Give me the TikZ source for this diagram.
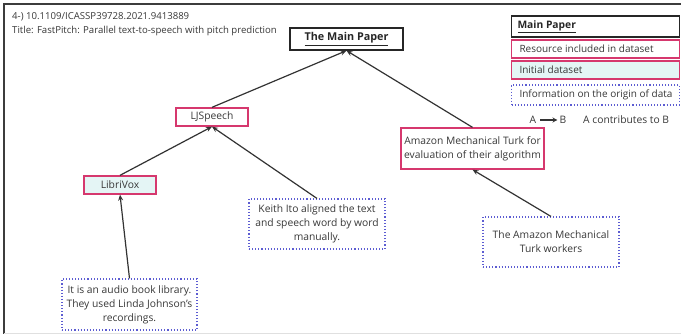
\documentclass[tikz,border=0pt]{standalone}
\usepackage{fontspec}
\setmainfont{Open Sans}
\usetikzlibrary{arrows.meta}
\definecolor{pinkc}{RGB}{214,56,110}
\definecolor{bluec}{RGB}{92,92,210}
\definecolor{cyanc}{RGB}{228,245,245}
\definecolor{txt}{RGB}{55,55,55}
\definecolor{framec}{RGB}{60,60,60}
\begin{document}
\begin{tikzpicture}[x=1pt,y=-1pt,
  every node/.style={font=\fontsize{10.3}{14}\selectfont, text=txt, inner sep=0pt, align=center},
  mainbox/.style={draw=black!85, line width=1.3pt, font=\fontsize{10.8}{14}\selectfont\bfseries, text=black!85},
  resbox/.style={draw=pinkc, line width=1.3pt},
  initbox/.style={resbox, fill=cyanc},
  infobox/.style={draw=bluec, dotted, line width=1.1pt},
  legtext/.style={minimum width=168pt, align=left, font=\fontsize{10}{14}\selectfont},
  arr/.style={-{Stealth[length=6pt,width=5pt]}, line width=1.2pt, draw=black!80},
  hdr/.style={anchor=base west, font=\fontsize{9.6}{12}\selectfont, text=txt}
]
\useasboundingbox (0,0) rectangle (681,334);
% frame
\draw[framec, line width=1.5pt] (4,334) -- (4,4) -- (681,4);
\draw[black!12, line width=0.8pt] (4,333) -- (681,333);
% header
\node[hdr] (h1) at (12,20) {4-) 10.1109/ICASSP39728.2021.9413889};
\node[hdr] (h2) at (12,34) {Title: FastPitch: Parallel text-to-speech with pitch prediction};
% nodes
\node[mainbox, minimum width=113pt, minimum height=22pt] (main) at (346.5,39) {\underline{The Main Paper}};
\node[resbox, minimum width=72pt, minimum height=18pt] (lj) at (212,117) {LJSpeech};
\node[initbox, minimum width=72pt, minimum height=18pt] (lv) at (120,185) {LibriVox};
\node[infobox, minimum width=136pt, minimum height=50pt] (keith) at (317,224) {Keith Ito aligned the text\\and speech word by word\\manually.};
\node[infobox, minimum width=135pt, minimum height=51pt] (audio) at (129.5,304.5) {It is an audio book library.\\They used Linda Johnson's\\recordings.};
\node[resbox, minimum width=143pt, minimum height=41pt] (amt) at (472.5,148.5) {Amazon Mechanical Turk for\\evaluation of their algorithm};
\node[infobox, minimum width=136pt, minimum height=50pt] (work) at (551,242) {The Amazon Mechanical\\Turk workers};
% arrows
\draw[arr] (lj.north) -- (main.south);
\draw[arr] (amt.north) -- (main.south);
\draw[arr] (lv.north) -- (lj.south);
\draw[arr] (keith.north) -- (lj.south);
\draw[arr] (audio.north) -- (lv.south);
\draw[arr] (work.north) -- (amt.south);
% legend
\node[mainbox, legtext, font=\fontsize{10.3}{14}\selectfont\bfseries, minimum height=21pt] (lg1) at (595.5,26.5) {\makebox[156pt][l]{\underline{Main Paper}}};
\node[resbox, legtext, minimum height=18pt] (lg2) at (595.5,49) {\makebox[152pt][l]{Resource included in dataset}};
\node[initbox, legtext, minimum height=18pt] (lg3) at (595.5,70) {\makebox[152pt][l]{Initial dataset}};
\node[infobox, legtext, minimum height=20pt] (lg4) at (595.5,95) {\makebox[152pt][l]{Information on the origin of data}};
\node (la) at (533,120) {A};
\node (lb) at (563,120) {B};
\draw[-{Stealth[length=5pt,width=5pt]}, line width=1.4pt, draw=black!80] ([xshift=4pt]la.east) -- ([xshift=-2pt]lb.west);
\node[anchor=west] (lc) at (583,120) {A contributes to B};
\end{tikzpicture}
\end{document}
